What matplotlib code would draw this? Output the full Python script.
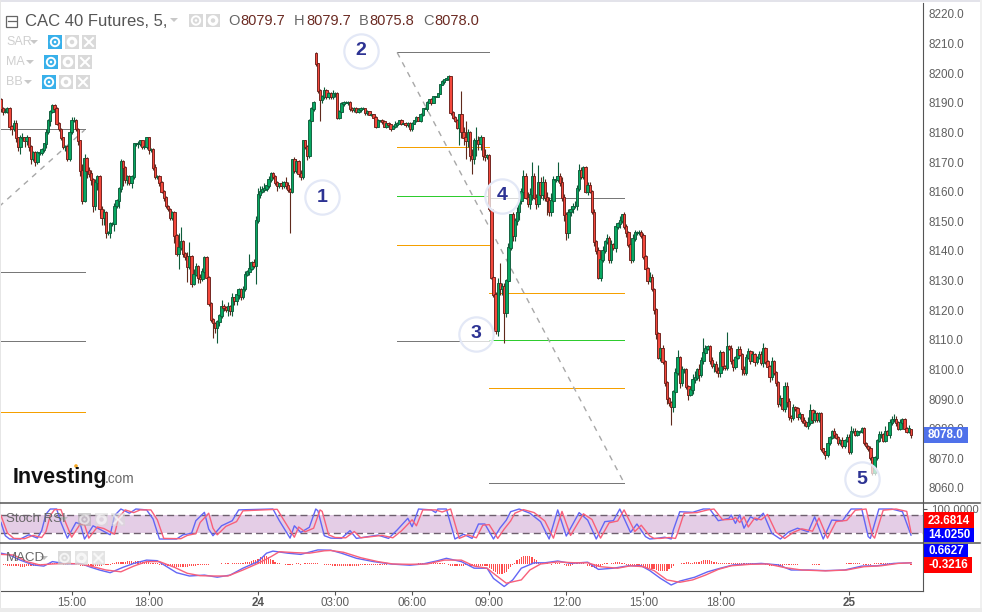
import numpy as np
import matplotlib
matplotlib.use('Agg')
import matplotlib.pyplot as plt
from matplotlib.patches import Rectangle, Circle

plt.rcParams['font.family'] = ['Liberation Sans', 'DejaVu Sans']

# closes of the 5 minute bars, one row = one hour
closes = [
    8188, 8187, 8187, 8188, 8182, 8181, 8183, 8178, 8175, 8178, 8178, 8177,
    8178, 8175, 8171, 8173, 8170, 8173, 8173, 8174, 8176, 8180, 8184, 8187,
    8189, 8188, 8183, 8181, 8178, 8175, 8175, 8171, 8180, 8184, 8184, 8181,
    8177, 8167, 8157, 8171, 8167, 8166, 8164, 8155, 8163, 8165, 8154, 8151,
    8153, 8146, 8146, 8149, 8149, 8155, 8157, 8161, 8170, 8168, 8164, 8165,
    8163, 8165, 8176, 8176, 8176, 8177, 8175, 8175, 8178, 8174, 8174, 8168,
    8165, 8165, 8163, 8160, 8158, 8155, 8154, 8151, 8152.8, 8145, 8139, 8141,
    8143, 8139, 8138, 8134.6, 8138, 8129, 8132, 8134.6, 8131, 8130.5, 8133, 8137.6,
    8131, 8122, 8116.7, 8115.5, 8114, 8116, 8118, 8121, 8120.8, 8120, 8121, 8119.7,
    8124, 8123, 8125, 8127, 8124.5, 8127, 8132, 8133, 8134, 8136, 8135, 8150,
    8159, 8160, 8160.6, 8161, 8162, 8164, 8166, 8165, 8163, 8162, 8162.5, 8162,
    8163, 8162, 8160.6, 8160, 8170.6, 8167, 8170, 8166, 8165, 8177, 8175, 8172,
    8184, 8188, 8190, 8203, 8194, 8191, 8192, 8194, 8192, 8193, 8192, 8193,
    8193, 8185, 8187, 8189.6, 8190, 8190, 8190, 8188, 8187.5, 8188, 8187, 8187.5,
    8188, 8188, 8186.5, 8187, 8186, 8186, 8185, 8182, 8184, 8184, 8183.5, 8182,
    8183, 8182.5, 8181, 8182, 8182.5, 8183, 8184, 8183, 8183, 8182.5, 8183, 8181,
    8183, 8184, 8185, 8184, 8186, 8188, 8188, 8190, 8191, 8190, 8192, 8192,
    8193, 8196, 8197, 8197.7, 8198, 8198.7, 8186.5, 8185, 8184, 8181.6, 8186, 8180,
    8178, 8177, 8180, 8172, 8171, 8177, 8177, 8176, 8178, 8172, 8171.7, 8172,
    8154, 8131, 8125, 8113, 8129, 8127, 8128, 8119, 8130, 8141, 8152, 8145,
    8150, 8153, 8157, 8160, 8165, 8158, 8156, 8159, 8165, 8158, 8156, 8163,
    8159, 8163, 8158, 8157, 8153, 8157, 8164, 8164, 8165, 8163, 8158, 8152,
    8146, 8153, 8154, 8155, 8155, 8161, 8167, 8165, 8168, 8160, 8162, 8160,
    8153, 8143, 8140, 8131, 8137, 8140, 8143, 8144, 8137, 8142, 8141, 8148,
    8149, 8150, 8152, 8148, 8146, 8142, 8137, 8144, 8146, 8146, 8146, 8145,
    8138, 8134, 8130, 8131, 8127, 8120, 8112, 8104, 8107, 8102.5, 8095.5, 8090,
    8088.7, 8087.3, 8092.4, 8098.8, 8104, 8095.5, 8100, 8100, 8094, 8091.5, 8093, 8096.5,
    8097, 8100, 8098, 8103, 8105.5, 8107, 8107.5, 8103, 8101, 8101.5, 8099.5, 8098.8,
    8105.5, 8101, 8100.5, 8107.5, 8107, 8103, 8100.8, 8104, 8106.6, 8105, 8100, 8098.8,
    8104, 8106, 8103, 8105, 8102.5, 8104, 8105, 8102, 8107, 8102.5, 8100.8, 8097.5,
    8102.5, 8098.8, 8095.5, 8088.4, 8090, 8086.7, 8094, 8089, 8084, 8083.6, 8087, 8086.7,
    8084, 8084.5, 8082.6, 8082, 8081, 8082, 8086, 8083, 8085, 8083, 8085, 8073,
    8072, 8071, 8075, 8077, 8079, 8078, 8077, 8075, 8076, 8074, 8076, 8077,
    8072, 8079, 8079, 8078, 8079, 8079, 8080, 8075, 8074, 8073, 8070, 8065,
    8070, 8076, 8078, 8078, 8076, 8079, 8078, 8082, 8083, 8083, 8082, 8080,
    8082, 8083, 8080, 8079, 8080, 8078,
]
# bars whose open is not the previous close
gap_opens = {147: 8206.5, 228: 8172, 425: 8079.7}

wick_up = [
    1, 1, 2, 1, 1, 1, 2, 2, 1, 2, 3, 1,
    2, 1, 1, 1, 1, 1, 2, 1, 1, 2, 1, 1,
    1, 1, 1, 1, 1, 1, 1, 1, 1, 2, 2, 1,
    1, 1, 4, 3, 1, 2, 2, 1, 2, 1, 1, 2,
    2, 1, 1, 1, 1, 2, 1, 1, 2, 1, 1, 1,
    1, 1, 1, 1, 2, 1, 1, 1, 1, 1, 1, 1,
    2, 1, 1, 1, 1, 1, 1, 1, 1, 1, 1, 5,
    5, 1, 1, 3, 5, 1, 3, 2, 1, 2, 2, 1,
    1, 1, 1, 1, 1, 1, 1, 4, 2, 1, 3, 1,
    3, 1, 3, 1, 1, 2, 2, 1, 5, 1, 2, 3,
    4, 3, 2, 3, 2, 2, 1, 1, 1, 1, 1, 2,
    1, 3, 2, 1, 1, 2, 2, 1, 2, 1, 1, 1,
    1, 1, 1, 1, 1, 1, 1, 2, 1, 1, 1, 2,
    1, 1, 1, 1, 1, 1, 1, 1, 1, 1, 1, 1,
    1, 1, 0, 1, 0, 1, 0, 1, 1, 0, 1, 1,
    0, 1, 0, 1, 2, 1, 0, 1, 0, 1, 1, 1,
    1, 0, 1, 0, 1, 0, 1, 1, 0, 1, 0, 0,
    0, 0, 1, 0, 0, 1, 0, 1, 1, 1, 0, 8,
    3, 6, 2, 1, 4, 2, 5, 3, 2, 1, 4, 1,
    1, 1, 1, 2, 3, 7, 2, 2, 1, 3, 1, 2,
    2, 3, 3, 2, 4, 2, 3, 4, 5, 2, 2, 6,
    3, 4, 2, 3, 2, 4, 2, 2, 5, 2, 3, 2,
    2, 2, 2, 2, 3, 2, 4, 2, 1, 1, 2, 2,
    1, 2, 1, 2, 3, 3, 1, 3, 2, 3, 1, 2,
    1, 3, 1, 2, 2, 1, 1, 3, 2, 1, 2, 2,
    2, 1, 1, 3, 2, 1, 1, 1, 1, 2, 1, 1,
    1, 1, 1, 3, 4, 1, 2, 1, 1, 1, 1, 3,
    4, 1, 3, 2, 5, 2, 1, 1, 2, 1, 2, 2,
    2, 1, 1, 5, 1, 2, 1, 1, 2, 2, 1, 2,
    2, 2, 1, 2, 1, 1, 2, 2, 3, 1, 1, 1,
    3, 1, 1, 1, 2, 1, 3, 3, 2, 1, 2, 1,
    1, 2, 1, 2, 1, 3, 4, 1, 2, 1, 1, 1,
    1, 1, 2, 1, 1, 2, 1, 1, 1, 2, 1, 2,
    2, 3, 2, 2, 1, 1, 1, 1, 1, 1, 2, 2,
    1, 1, 2, 2, 1, 3, 1, 2, 2, 3, 2, 1,
    2, 1, 1, 1, 2, 0,
]
wick_lo = [
    2, 2, 1, 1, 2, 3, 1, 2, 2, 4, 1, 3,
    2, 2, 3, 1, 2, 1, 1, 1, 1, 2, 1, 3,
    1, 2, 1, 1, 1, 1, 2, 1, 1, 1, 1, 1,
    2, 3, 2, 1, 4, 2, 3, 3, 2, 4, 3, 4,
    4, 3, 1, 3, 1, 4, 1, 4, 2, 6, 2, 3,
    1, 3, 1, 1, 2, 1, 1, 1, 1, 2, 1, 1,
    1, 1, 2, 1, 2, 1, 1, 1, 1, 4, 1, 5,
    1, 2, 2, 5, 1, 2, 1, 1, 3, 2, 1, 1,
    1, 1, 1, 5, 3, 5, 2, 1, 2, 1, 3, 2,
    3, 2, 2, 2, 2, 1, 1, 1, 2, 1, 1, 6,
    1, 2, 1, 1, 1, 1, 1, 1, 1, 3, 1, 2,
    1, 2, 1, 14, 1, 1, 1, 2, 2, 1, 1, 2,
    1, 1, 1, 1, 1, 7, 2, 1, 1, 1, 1, 1,
    2, 1, 1, 1, 1, 0, 1, 1, 1, 1, 1, 1,
    1, 0, 1, 1, 0, 1, 1, 1, 0, 1, 1, 0,
    1, 1, 1, 0, 1, 1, 0, 1, 1, 1, 1, 1,
    1, 0, 1, 0, 1, 1, 0, 1, 0, 1, 0, 0,
    0, 0, 0, 1, 0, 0, 1, 1, 1, 1, 6, 3,
    4, 6, 3, 3, 5, 3, 5, 3, 3, 2, 2, 1,
    1, 1, 1, 2, 3, 3, 3, 10, 2, 1, 1, 3,
    3, 2, 4, 2, 2, 1, 2, 3, 3, 1, 3, 2,
    2, 3, 2, 5, 2, 2, 1, 1, 1, 2, 2, 3,
    4, 3, 2, 2, 1, 2, 1, 1, 1, 1, 2, 1,
    1, 2, 2, 1, 2, 1, 1, 1, 2, 2, 1, 2,
    1, 2, 1, 1, 2, 1, 2, 1, 1, 1, 1, 1,
    1, 1, 2, 1, 1, 2, 3, 1, 2, 1, 2, 3,
    2, 6, 3, 1, 1, 3, 2, 2, 1, 3, 1, 2,
    2, 1, 3, 1, 2, 1, 1, 2, 1, 3, 1, 2,
    2, 2, 1, 1, 1, 2, 2, 1, 1, 1, 3, 1,
    1, 1, 2, 1, 2, 1, 1, 1, 2, 1, 1, 3,
    2, 1, 2, 2, 1, 1, 2, 3, 2, 2, 1, 1,
    2, 1, 1, 2, 1, 2, 1, 2, 1, 1, 1, 1,
    1, 2, 1, 1, 1, 2, 1, 1, 1, 1, 1, 1,
    1, 1, 1, 1, 1, 1, 1, 1, 1, 1, 1, 1,
    1, 1, 1, 2, 1, 1, 1, 2, 1, 1, 2, 1,
    1, 1, 1, 1, 1, 2,
]

# horizontal levels: first bar, last bar, price, colour
level_start = [-1, -1, -1, -1, 185, 185, 185, 185, 185, 228, 228, 228, 228, 228]
level_end = [39, 39, 39, 39, 228, 228, 228, 228, 228, 291, 291, 291, 291, 291]
level_price = [8181, 8133, 8109.5, 8085.7, 8207, 8175, 8158.5, 8142, 8109.7, 8158, 8125.8, 8110, 8093.7, 8061.7]
level_color = ['#787878', '#787878', '#787878', '#f5a000', '#787878', '#f5a000', '#2ecc2e', '#f5a000', '#787878',
               '#787878', '#f5a000', '#2ecc2e', '#f5a000', '#787878']

# dashed diagonals
diag_idx = [[-1, 39], [185, 291]]
diag_price = [[8154.9, 8180.8], [8207, 8061.7]]

# wave labels
badge_labels = ['1', '2', '3', '4', '5']
badge_idx = [150, 168, 222, 234, 402]
badge_price = [8158.2, 8207.5, 8112, 8158.6, 8063]

stoch_blue_idx = [0, 2, 4, 9, 13, 17, 19, 21, 23, 26, 28, 31, 35, 37, 39, 43, 46, 51, 53, 56, 60, 63, 68, 71, 74,
                  82, 85, 89, 91, 95, 97, 99, 103, 108, 111, 127, 130, 135, 137, 140, 144, 147, 148, 151, 154,
                  159, 163, 166, 176, 181, 185, 190, 192, 195, 201, 203, 204, 208, 212, 216, 220, 223, 226, 230,
                  233, 236, 238, 242, 247, 252, 256, 260, 264, 270, 274, 278, 282, 286, 289, 294, 297, 301, 303,
                  306, 310, 313, 314, 317, 323, 328, 331, 335, 340, 341, 343, 345, 347, 350, 353, 356, 360, 364,
                  368, 372, 377, 380, 384, 388, 393, 397, 402, 405, 406, 410, 416, 421, 425]
stoch_blue = [55, 11, 0, 0, 14, 3, 28, 83, 100, 100, 55, 3, 55, 50, 0, 44, 33, 14, 78, 100, 86, 100, 97, 67, 0,
              0, 14, 19, 61, 89, 33, 11, 44, 61, 97, 100, 61, 3, 44, 22, 39, 100, 94, 11, 3,
              2, 28, 2, 13, 2, 30, 69, 41, 100, 97, 88, 100, 100, 0, 16, 2, 50, 50, 0,
              36, 63, 91, 100, 86, 58, 0, 97, 10, 88, 63, 0, 58, 61, 100, 22, 50, 8, 0,
              2, 6, 0, 30, 91, 89, 100, 100, 61, 69, 80, 52, 80, 36, 74, 63, 86, 19, 0,
              24, 36, 24, 74, 0, 63, 61, 100, 100, 8, 2, 100, 100, 91, 13]
stoch_red_idx = [0, 3, 6, 11, 15, 19, 21, 23, 25, 28, 30, 33, 37, 39, 41, 45, 48, 53, 55, 58, 62, 65, 70, 73, 76,
                 84, 87, 91, 93, 97, 99, 101, 105, 110, 113, 129, 132, 137, 139, 142, 146, 149, 150, 153, 156,
                 161, 165, 168, 178, 183, 187, 192, 194, 197, 203, 206, 210, 214, 218, 222, 225, 228, 232,
                 235, 238, 240, 244, 249, 254, 258, 262, 266, 272, 276, 280, 284, 288, 291, 296, 299, 303, 305,
                 308, 312, 315, 316, 319, 325, 330, 333, 337, 342, 343, 345, 347, 349, 352, 355, 358, 362, 366,
                 370, 374, 379, 382, 386, 390, 395, 399, 404, 407, 408, 412, 418, 423, 425]
stoch_red = [78, 20, 2, 1, 12, 5, 25, 78, 98, 98, 58, 6, 50, 48, 3, 40, 35, 16, 72, 97, 88, 97, 97, 64, 2,
             1, 12, 18, 55, 86, 36, 14, 42, 58, 94, 99, 64, 6, 40, 24, 36, 97, 92, 14, 5,
             4, 25, 4, 12, 4, 27, 64, 44, 97, 97, 90, 100, 2, 14, 4, 46, 48, 2,
             33, 60, 86, 98, 88, 60, 3, 92, 12, 84, 65, 3, 54, 60, 97, 25, 46, 10, 2,
             2, 5, 2, 20, 86, 88, 97, 100, 64, 66, 72, 55, 74, 40, 70, 64, 82, 22, 2,
             22, 34, 26, 70, 3, 58, 62, 96, 100, 12, 3, 96, 100, 92, 22]

macd_blue_idx = [0, 4, 9, 15, 20, 24, 31, 37, 42, 46, 51, 57, 62, 68, 73, 77, 82, 88, 95, 101, 107, 113, 120, 124,
                 127, 134, 140, 148, 154, 159, 166, 174, 182, 191, 197, 204, 208, 215, 221, 227, 230, 235, 239,
                 243, 249, 254, 260, 266, 274, 279, 286, 293, 299, 303, 308, 313, 317, 324, 330, 336, 342, 350,
                 355, 363, 369, 377, 385, 394, 402, 409, 417, 425]
macd_blue = [3.6, 3, 1.3, -0.3, -0.7, 0.8, 0, 0.2, -1.1, -2, -2.9, -1.1, 0.2, 1.3, 1.1, -0.7, -2.9, -4, -3.7, -4.4,
             -3.7, -1.4, 0.8, 3.6, 4.3, 3.6, 3.2, 4.7, 4.6, 3.6, 1.9, 0.8, 0, -0.4, 0, 1.1, 1.9, 0.8, -1.4, -1.4,
             -4.8, -7.5, -5.3, -1.4, 0.4, 0.4, 1, 0.2, 0.6, -1.8, -1.4, -0.6, -0.6, -2.2, -4.8, -7, -5.7, -4.4,
             -2.6, -1.4, -0.3, 0, 0.2, -0.3, -2, -2, -2.2, -2, -0.7, -0.6, 0.2, 0.4]
macd_red_idx = [0, 6, 12, 18, 24, 31, 37, 43, 49, 56, 62, 68, 74, 81, 87, 93, 99, 106, 113, 120, 126, 130, 137, 144,
                151, 154, 160, 168, 176, 183, 191, 199, 207, 215, 221, 227, 231, 236, 243, 247, 252, 260, 268,
                274, 280, 288, 294, 300, 305, 311, 317, 323, 329, 335, 341, 350, 358, 366, 374, 385, 395, 403,
                411, 419, 425]
macd_red = [3.2, 3, 0.8, -0.3, 0, 0.2, 0, -0.9, -2, -2.6, -0.7, 0.8, 0.8, -1.1, -3.1, -3.9, -4, -4, -2, 0.2, 2.4,
            4.1, 3.8, 3.6, 4.4, 4.5, 3.9, 2.1, 0.8, 0, -0.1, 0, 1.3, 1.3, -0.7, -1.4, -3.7, -6.4, -5.3, -2, 0,
            0.7, 0.4, 0.4, -0.9, -1.4, -0.6, -0.9, -2.2, -5.3, -6.1, -5.3, -3.7, -1.8, -0.6, -0.1, 0, -1.2, -2,
            -2.3, -2, -0.9, -0.6, 0.2, 0.4]
macd_hist = [
    0, -.3, -.4, -.5, -.6, -.7, -.7, -.8, -.8, -.9, -.9, -.9,
    -.8, -.8, -.7, -.7, -.6, -.5, -.5, -.4, -.3, -.3, -.2, .2,
    .3, .3, .2, .2, .2, -.2, -.2, -.2, .2, .2, .2, -.2,
    -.4, -.5, -.6, -.7, -.7, -.8, -.8, -.7, -.7, -.8, -.6, -.5,
    -.4, -.3, -.2, -.2, .2, .3, .8, .8, .8, .7, .8, .9,
    .9, .9, .8, .9, .9, .8, .7, .7, .6, .6, .5, .5,
    .3, .2, -.2, -.3, -.4, -.6, -.7, -.8, -.9, -1, -1, -1,
    -1, -1, -.9, -.9, -.8, -.7, -.6, -.5, -.4, -.4, -.3, -.2,
    -.2, -.2, 0, .1, 0, .1, 0, .2, 0, .2, .2, 0,
    .2, .3, .2, .2, .3, .5, .6, .7, .8, .9, 1.2, 1.4,
    1.8, 2.2, 2.4, 2.6, 2.6, 2.2, 1.6, 1.2, .8, .5, .2, .1,
    0, -.2, -.3, -.3, -.2, 0, .2, .2, -.2, -.1, .2, .4,
    .5, .5, .4, .3, .2, .1, -.1, -.2, -.3, -.3, -.4, -.5,
    -.6, -.7, -.8, -.8, -.8, -.8, -.7, -.7, -.6, -.6, -.5, -.5,
    -.4, -.4, -.4, -.3, -.3, -.3, -.2, -.2, -.2, -.2, -.2, -.2,
    -.2, -.1, -.1, -.1, -.1, -.1, -.1, -.1, 0, 0, 0, 0,
    0, .1, .1, .2, .3, .3, .4, .5, .5, .5, .5, .5,
    .5, .4, .3, .2, 0, -.2, -.5, -.6, -.7, -.7, -.6, -.5,
    -.5, -.4, -.4, -.5, -.6, -.6, -.6, -.5, -.5, -.5, -.6, -.8,
    -1.2, -1.7, -2.2, -2.8, -3.2, -3.4, -3.3, -3, -2.5, -1.8, -.9, -.2,
    .5, 1.2, 1.8, 2.3, 2.6, 2.8, 2.8, 2.6, 2.2, 1.7, 1.2, .8,
    .5, .3, 0, .2, -.1, -.2, -.1, .2, .3, .2, 0, -.3,
    -.5, -.6, -.5, -.2, .2, .2, .2, .3, .2, .1, -.5, -.8,
    -1, -1.2, -1.4, -1, -.5, -.2, .2, .4, .1, .2, .3, .7,
    .7, .7, .5, .2, -.4, -.7, -.8, -.8, -.8, -.8, -.9, -1,
    -1.1, -1.2, -1.2, -1.4, -1.6, -1.8, -2, -2.2, -2.3, -2.3, -2.2, -2.2,
    -1.8, -1.4, -.8, 0, 0, 0, .4, .5, .7, .6, .4, .5,
    .6, .7, .8, 1, 1.2, 1.2, 1.3, 1.2, 1, .8, .7, .4,
    .4, .3, .3, .3, .3, .3, .3, .3, .3, .3, .4, .3,
    .3, .2, .2, .2, .1, .1, .1, .1, -.1, -.2, -.3, -.5,
    -.5, -.6, -.7, -.7, -.6, -.5, -.4, -.4, -.4, -.3, -.2, -.2,
    -.2, -.1, -.1, -.1, 0, .1, 0, -.2, -.2, -.2, -.3, 0,
    0, .1, 0, -.1, 0, 0, 0, 0, .1, .1, .1, .2,
    .3, .3, .2, .4, .3, .2, 0, -.3, -.3, -.3, -.3, 0,
    .2, .2, .3, .4, .4, .4, .4, .3, .3, .2, .1, .1,
    0, 0, 0, 0, .1, -.3,
]

time_ticks = [33, 69, 120, 156, 192, 228, 264, 300, 336, 396]
time_labels = ['15:00', '18:00', '24', '03:00', '06:00', '09:00', '12:00', '15:00', '18:00', '25']
price_ticks = [8060, 8070, 8080, 8090, 8100, 8110, 8120, 8130, 8140, 8150, 8160, 8170, 8180, 8190, 8200, 8210, 8220]

W, H = 982, 612
XMIN, XMAX = -0.47, 430.6
DARK = '#555555'
LABEL = '#606060'
NARROW = ['Liberation Sans Narrow', 'Liberation Sans']


def px_axes(left, top, right, bottom, **kw):
    return fig.add_axes([left / W, 1 - bottom / H, (right - left) / W, (bottom - top) / H], **kw)


fig = plt.figure(figsize=(W / 100, H / 100), dpi=100, facecolor='white')

# --- price panel
ax = px_axes(0, 3, 923, 503)
closes_arr = np.array(closes, dtype=float)
opens = np.r_[closes_arr[0] + 3, closes_arr[:-1]]
for k, v in gap_opens.items():
    opens[k] = v
idx = np.arange(len(closes_arr))
# short wicks read a bit long at this size, keep the long ones as they are
up_w = np.array(wick_up, dtype=float)
lo_w = np.array(wick_lo, dtype=float)
up_w = np.where(up_w >= 5, up_w, up_w * 0.6)
lo_w = np.where(lo_w >= 5, lo_w, lo_w * 0.6)
highs = np.maximum(opens, closes_arr) + up_w
lows = np.minimum(opens, closes_arr) - lo_w
up = closes_arr >= opens

ax.vlines(idx[up], lows[up], highs[up], color='#0e5c3a', lw=0.8, zorder=2)
ax.vlines(idx[~up], lows[~up], highs[~up], color='#5f2a1c', lw=0.8, zorder=2)
# one bar call so that every candle is painted over the one before it
body_fill = ['#07a862' if u else '#f4483c' for u in up]
body_edge = ['#0e5c3a' if u else '#6d1f1a' for u in up]
ax.bar(idx, np.abs(closes_arr - opens) + 0.3, bottom=np.minimum(opens, closes_arr), width=1.15,
       color=body_fill, edgecolor=body_edge, lw=0.65, zorder=3)

levels = ax.hlines(level_price, level_start, level_end, colors=level_color, lw=0.72, zorder=1)
levels.set_antialiased(False)
for dx, dy in zip(diag_idx, diag_price):
    ax.plot(dx, dy, color='#a8a8a8', lw=1.0, dashes=(4, 4), zorder=1)

ax.scatter(badge_idx, badge_price, s=610, facecolor=(1, 1, 1, 0.72), edgecolor='#e3e8f6', lw=1.6, zorder=5)
for lab, bx, by in zip(badge_labels, badge_idx, badge_price):
    ax.text(bx, by, lab, ha='center', va='center', fontsize=14, fontweight='bold', color='#2d3393', zorder=6)

ax.set_xlim(XMIN, XMAX)
ax.set_ylim(8054.9, 8223.7)
ax.set_xticks([])
ax.yaxis.tick_right()
ax.set_yticks(price_ticks)
ax.set_yticklabels(['%.1f' % p for p in price_ticks], fontsize=8.4, color=LABEL)
ax.tick_params(axis='y', length=0, pad=4)
for s in ['top', 'left', 'bottom']:
    ax.spines[s].set_visible(False)
ax.spines['right'].set_color(DARK)

# --- stochastic rsi panel
ax2 = px_axes(0, 503, 923, 543)
ax2.axhspan(20, 80, color='#e4cde6', lw=0, zorder=0)
ax2.hlines([20, 80], XMIN, XMAX, colors='#6e5f6e', lw=1.0, linestyles=(0, (5, 3)), zorder=1)
ax2.plot(stoch_blue_idx, stoch_blue, color='#6366f5', lw=1.0, zorder=2)
ax2.plot(stoch_red_idx, stoch_red, color='#f8607a', lw=1.0, zorder=3)
ax2.set_xlim(XMIN, XMAX)
ax2.set_ylim(-13.3, 120)
ax2.set_xticks([])
ax2.yaxis.tick_right()
ax2.set_yticks([100])
ax2.set_yticklabels(['100.0000'], fontsize=8.2, color=LABEL)
ax2.tick_params(axis='y', length=3, pad=3, color=DARK)
for s in ['top', 'left', 'bottom']:
    ax2.spines[s].set_visible(False)
ax2.spines['right'].set_color(DARK)

# --- macd panel
ax3 = px_axes(0, 543, 923, 591)
ax3.bar(idx, macd_hist, width=0.55, color='#ff4d4d', lw=0, zorder=1)
ax3.plot(macd_blue_idx, macd_blue, color='#6366f5', lw=1.0, zorder=2)
ax3.plot(macd_red_idx, macd_red, color='#f8607a', lw=1.0, zorder=3)
ax3.set_xlim(XMIN, XMAX)
ax3.set_ylim(-9, 7)
ax3.set_yticks([])
ax3.set_xticks(time_ticks)
ax3.set_xticklabels(time_labels, fontsize=8.4, color=LABEL)
for lab in ax3.get_xticklabels():
    if lab.get_text() in ('24', '25'):
        lab.set_fontweight('bold')
        lab.set_color('#555555')
ax3.tick_params(axis='x', length=3, pad=1.5, color=DARK)
for s in ['top', 'left']:
    ax3.spines[s].set_visible(False)
ax3.spines['right'].set_color(DARK)
ax3.spines['bottom'].set_color(DARK)

# --- everything drawn over the panels, in pixels
ov = fig.add_axes([0, 0, 1, 1], facecolor='none')
ov.set_xlim(0, W)
ov.set_ylim(H, 0)
ov.axis('off')


def box(x0, y0, x1, y1, color, alpha=1.0):
    ov.add_patch(Rectangle((x0, y0), x1 - x0, y1 - y0, facecolor=color, edgecolor='none', alpha=alpha))


def tri(x, y, color='#c8c8c8'):
    ov.fill([x - 4, x + 4, x], [y - 2, y - 2, y + 2], color=color, lw=0)


def icon_eye(x0, y0, x1, y1, color, alpha=1.0):
    box(x0, y0, x1, y1, color, alpha)
    cx, cy = (x0 + x1) / 2, (y0 + y1) / 2
    ov.add_patch(Circle((cx, cy), 4.2, fill=False, edgecolor='white', lw=1.4, alpha=alpha))
    ov.add_patch(Circle((cx, cy), 1.3, color='white', lw=0, alpha=alpha))


def icon_gear(x0, y0, x1, y1, alpha=1.0):
    box(x0, y0, x1, y1, '#d9d9d9', alpha)
    cx, cy = (x0 + x1) / 2, (y0 + y1) / 2
    ov.add_patch(Circle((cx, cy), 3.8, fill=False, edgecolor='white', lw=2.2, alpha=alpha))


def icon_x(x0, y0, x1, y1, alpha=1.0):
    box(x0, y0, x1, y1, '#d9d9d9', alpha)
    cx, cy = (x0 + x1) / 2, (y0 + y1) / 2
    ov.plot([cx - 4, cx + 4], [cy - 4, cy + 4], color='white', lw=1.5, alpha=alpha)
    ov.plot([cx - 4, cx + 4], [cy + 4, cy - 4], color='white', lw=1.5, alpha=alpha)


# page edges
box(0, 0, W, 2, '#e3e3ea')
box(0, 0, 1, 608, '#e6e6e6')
box(0, 608, W, H, '#ebebeb')
box(980, 0, W, 608, '#f0f0f0')
ov.plot([0, 980], [503, 503], color=DARK, lw=1.1)
ov.plot([0, 980], [543, 543], color=DARK, lw=1.1)

# header
ov.add_patch(Rectangle((6.5, 15.5), 11, 11, fill=False, edgecolor='#666666', lw=0.9))
ov.plot([8, 16], [21, 21], color='#666666', lw=0.9)
ov.text(25, 21, 'CAC 40 Futures, 5,', fontsize=12, color='#555555', va='center')
tri(174, 20)
icon_eye(189, 14, 203, 27, '#d9d9d9')
icon_gear(206, 14, 220, 27)
for letter, lx, num, nx in [('O', 228, '8079.7', 240), ('H', 294, '8079.7', 306),
                            ('B', 359, '8075.8', 369), ('C', 423, '8078.0', 434)]:
    ov.text(lx, 21, letter, fontsize=10.5, color='#666666', va='center')
    ov.text(nx, 21, num, fontsize=10.5, color='#6b2a22', va='center')

# indicator rows
for name, ty, tx, eye_x in [('SAR', 42, 34, 48), ('MA', 62, 30, 44), ('BB', 82, 28, 42)]:
    ov.text(6, ty, name, fontsize=9, color='#cfcfcf', va='center', family=NARROW)
    tri(tx, ty)
    icon_eye(eye_x, ty - 7, eye_x + 14, ty + 7, '#38b0ea')
    icon_gear(eye_x + 17, ty - 7, eye_x + 31, ty + 7)
    icon_x(eye_x + 34, ty - 7, eye_x + 48, ty + 7)

ov.text(6, 519, 'Stoch RSI', fontsize=9.5, color='#666666', va='center', family=NARROW)
tri(64, 519, '#bdbdbd')
icon_eye(78, 513, 91, 526, '#aaaaaa', 0.55)
icon_gear(95, 513, 108, 526, 0.55)
icon_x(111, 513, 125, 526, 0.55)
ov.text(6, 558, 'MACD', fontsize=9.5, color='#666666', va='center', family=NARROW)
tri(44, 558, '#bdbdbd')
icon_eye(58, 551, 71, 565, '#cccccc', 0.7)
icon_gear(75, 551, 88, 565, 0.7)
icon_x(92, 551, 105, 565, 0.7)

# logo
ov.text(13, 477, 'Investing', fontsize=15.5, fontweight='bold', color='#111111', va='center')
ov.text(105, 479, '.com', fontsize=9.8, color='#666666', va='center')
ov.add_patch(Circle((76, 466), 1.8, color='#f5a623', lw=0))

# price tags, the 8080.0 label sits behind the current price as in the original
box(924, 427, 968, 443, '#4f71ea')
ov.text(946, 435, '8078.0', fontsize=8.4, color='white', fontweight='bold', ha='center', va='center')
box(924, 512, 974, 528, '#ff0000')
ov.text(949, 520.5, '23.6814', fontsize=8.4, color='white', fontweight='bold', ha='center', va='center')
box(924, 528, 974, 542, '#0000ff')
ov.text(949, 535.5, '14.0250', fontsize=8.4, color='white', fontweight='bold', ha='center', va='center')
box(924, 544, 968, 557, '#0000ff')
ov.text(946, 550.5, '0.6627', fontsize=8.4, color='white', fontweight='bold', ha='center', va='center')
box(924, 557, 972, 573, '#ff0000')
ov.text(948, 565.5, '-0.3216', fontsize=8.4, color='white', fontweight='bold', ha='center', va='center')

fig.savefig('out.png', dpi=100)
